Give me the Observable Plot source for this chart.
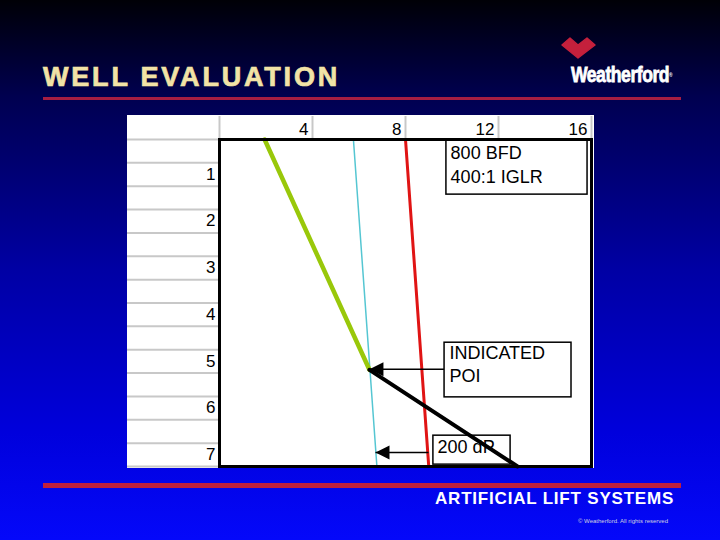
<!DOCTYPE html>
<html><head><meta charset="utf-8">
<script src="https://cdn.jsdelivr.net/npm/d3@7"></script>
<script src="https://cdn.jsdelivr.net/npm/@observablehq/plot@0.6"></script>
<style>
html,body{margin:0;padding:0;background:#000;}
#slide{position:relative;width:720px;height:540px;overflow:hidden;
  background:linear-gradient(to bottom,#000006 0%,#000050 18%,#0000a4 50%,#0000dc 80%,#0408fa 100%);
  font-family:"Liberation Sans",Arial,sans-serif;}
#title{position:absolute;left:43px;top:64px;font-size:27px;line-height:27px;font-weight:bold;color:#f2e3a6;letter-spacing:2.8px;white-space:nowrap;-webkit-text-stroke:0.7px #f2e3a6;}
.rule{position:absolute;left:43px;width:638px;}
#rtop{top:97px;height:3px;background:#a61e42;}
#rbot{top:483px;height:5px;background:#c0203c;}
#brand{position:absolute;left:571px;top:64px;font-size:22px;line-height:22px;font-weight:bold;color:#fff;white-space:nowrap;transform:scaleX(0.8);transform-origin:left top;letter-spacing:-0.6px;-webkit-text-stroke:0.8px #fff;}
#brand sup{font-size:6px;vertical-align:top;-webkit-text-stroke:0;}
#logo{position:absolute;left:0;top:0;}
#chart{position:absolute;left:127px;top:115px;}
#footer{position:absolute;left:435px;top:490px;font-size:17px;line-height:17px;font-weight:bold;color:#fff;letter-spacing:0.8px;white-space:nowrap;}
#copy{position:absolute;left:578px;top:518px;font-size:6px;line-height:6px;color:#d0d0e0;white-space:nowrap;}
</style></head><body>
<div id="slide">
  <div id="title">WELL EVALUATION</div>
  <div class="rule" id="rtop"></div>
  <svg id="logo" width="720" height="100"><path d="M562,45 L570,38 L578,45 L587,38 L595,45 L578,58 Z" fill="#c4203c" stroke="#c4203c" stroke-linejoin="round" stroke-width="1.5"/></svg>
  <div id="brand">Weatherford<sup>®</sup></div>
  <div id="chart"></div>
  <div class="rule" id="rbot"></div>
  <div id="footer">ARTIFICIAL LIFT SYSTEMS</div>
  <div id="copy">© Weatherford. All rights reserved</div>
</div>
<script>
// ---- data ----
const depthRows = [0,0.5,1,1.5,2,2.5,3,3.5,4,4.5,5,5.5,6,6.5,7];
const depthTicks = [1,2,3,4,5,6,7];
const columnEdges = [0,4,8,12,16];
const pressureTicks = [4,8,12,16];

const gasGradX = [1.94, 6.45],  gasGradY = [0, 4.93];     // green
const fluidGradX = [6.45, 12.82], fluidGradY = [4.93, 7];  // black
const cyanX = [5.76, 6.77], cyanY = [0, 7];                // cyan
const redX = [8.0, 9.0], redY = [0, 7];                    // red

const boxTexts = ["800 BFD\n400:1 IGLR", "INDICATED\nPOI", "200 dP"];
const boxX1 = [9.76, 9.68, 9.20], boxX2 = [15.83, 15.14, 12.52];
const boxY1 = [0.02, 4.35, 6.34], boxY2 = [1.18, 5.52, 6.96];
const textX = [9.94, 9.89, 9.38], textY = [0.51, 4.79, 6.56];

const arrowFromX = [9.68, 8.99], arrowToX = [6.45, 6.71], arrowY = [4.92, 6.70];

// ---- build ----
const pts = (xs, ys) => xs.map((x, i) => ({x, y: ys[i]}));
const boxes = boxTexts.map((t, i) => ({t, x1: boxX1[i], x2: boxX2[i], y1: boxY1[i], y2: boxY2[i], tx: textX[i], ty: textY[i]}));
const arrows = arrowY.map((y, i) => ({x1: arrowFromX[i], x2: arrowToX[i], y}));
const leftHead = {draw(ctx) { ctx.moveTo(0,0); ctx.lineTo(14,-7); ctx.lineTo(14,7); ctx.closePath(); }};

const chart = Plot.plot({
  width: 467, height: 353,
  marginLeft: 92, marginTop: 24, marginRight: 3, marginBottom: 2,
  x: {domain: [0, 16], label: null},
  y: {domain: [0, 7], reverse: true, label: null},
  style: {background: "white", fontFamily: "'Liberation Sans', Arial, sans-serif", fontSize: "17px", color: "black", overflow: "visible"},
  marks: [
    Plot.axisY({ticks: depthRows, anchor: "left", tickSize: 92, tickFormat: () => "", stroke: "#c8c8c8", strokeWidth: 2, strokeOpacity: 1, label: null}),
    Plot.axisY({ticks: depthTicks, anchor: "left", tickSize: 0, tickPadding: 4, dy: -12, tickFormat: d => String(d), fontSize: 17, fill: "black", label: null}),
    Plot.axisX({ticks: columnEdges, anchor: "top", tickSize: 24, tickFormat: () => "", stroke: "#c8c8c8", strokeWidth: 2, strokeOpacity: 1, label: null}),
    Plot.axisX({ticks: pressureTicks, anchor: "top", tickSize: 0, tickPadding: 5, dx: -4, textAnchor: "end", tickFormat: d => String(d), fontSize: 17, fill: "black", label: null}),
    Plot.line(pts(cyanX, cyanY), {x: "x", y: "y", stroke: "#55c6d2", strokeWidth: 1.5}),
    Plot.line(pts(redX, redY), {x: "x", y: "y", stroke: "#e01414", strokeWidth: 3}),
    Plot.line(pts(gasGradX, gasGradY), {x: "x", y: "y", stroke: "#99c80a", strokeWidth: 4.5}),
    Plot.link(arrows, {x1: "x1", x2: "x2", y1: "y", y2: "y", stroke: "black", strokeWidth: 1.5}),
    Plot.dot(arrows, {x: "x2", y: "y", symbol: leftHead, fill: "black", stroke: "none"}),
    Plot.rect(boxes, {x1: "x1", x2: "x2", y1: "y1", y2: "y2", fill: "white", stroke: "black", strokeWidth: 1.5}),
    Plot.text(boxes, {x: "tx", y: "ty", text: "t", textAnchor: "start", lineAnchor: "middle", lineHeight: 1.3, fontSize: 18, fill: "black"}),
    Plot.line(pts(fluidGradX, fluidGradY), {x: "x", y: "y", stroke: "black", strokeWidth: 4}),
    Plot.frame({stroke: "black", strokeWidth: 3})
  ]
});
document.getElementById("chart").appendChild(chart);
</script>
</body></html>
